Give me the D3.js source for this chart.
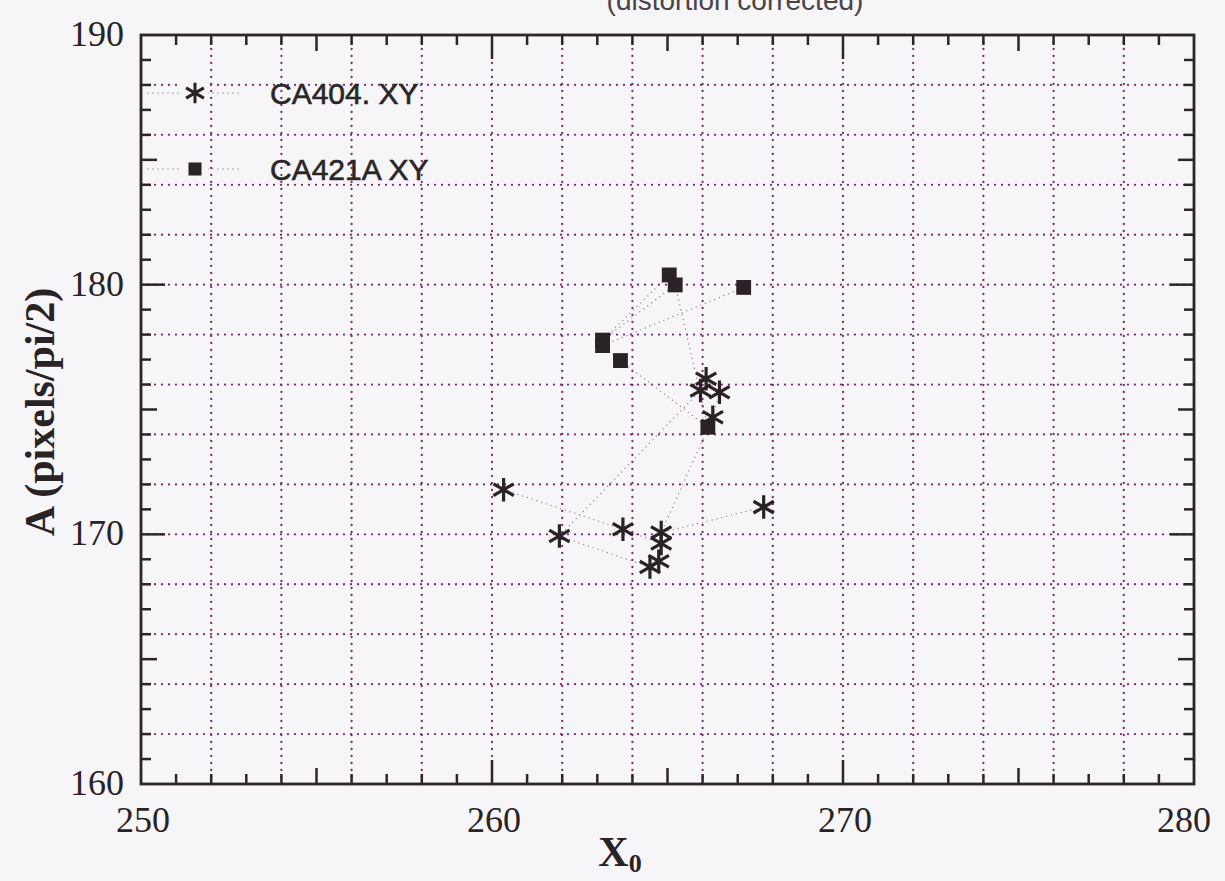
<!DOCTYPE html>
<html lang="en">
	<head>
		<meta charset="utf-8">
		<title>A vs X0 (distortion corrected)</title>
		<script type="text/javascript" src="https://d3js.org/d3.v7.min.js"></script>
		<style type="text/css">
			body { margin: 0; background: #f6f5f7; }
			svg { display: block; }
			.num { font-family: "Liberation Serif", "Times New Roman", serif; font-size: 36px; fill: #2a2326; }
			.lbl { font-family: "Liberation Serif", "Times New Roman", serif; font-weight: bold; fill: #2a2326; }
			.leg { font-family: "Liberation Sans", Arial, sans-serif; font-size: 30px; fill: #2a2628; stroke: #2a2628; stroke-width: 0.6px; }
		</style>
	</head>
	<body>
		<script type="text/javascript">

			//Width and height
			var w = 1225;
			var h = 881;

			// data
			var seriesNames = ["CA404. XY", "CA421A XY"];
			var ca404X = [260.33, 263.73, 264.82, 264.75, 264.50, 261.92, 265.94, 266.10, 266.48, 266.29, 264.82, 267.74];
			var ca404Y = [171.79, 170.20, 169.63, 168.92, 168.69, 169.93, 175.76, 176.23, 175.69, 174.69, 170.07, 171.09];
			var ca421X = [265.05, 263.15, 265.22, 266.15, 263.66, 263.15, 267.17];
			var ca421Y = [180.39, 177.78, 179.99, 174.29, 176.96, 177.56, 179.89];

			var xTicks = [250, 260, 270, 280];
			var yTicks = [160, 170, 180, 190];
			var xGrid = d3.range(252, 280, 2);
			var yGrid = d3.range(162, 190, 2);
			var xMinor = d3.range(251, 280, 1);
			var yMinor = d3.range(161, 190, 1);

			// plot box (named so they do not clash with window.top)
			var pLeft = 141, pRight = 1194, pTop = 35, pBottom = 784;

			var x = d3.scaleLinear().domain([250, 280]).range([pLeft, pRight]);
			var y = d3.scaleLinear().domain([160, 190]).range([pBottom, pTop]);

			var svg = d3.select("body")
						.append("svg")
						.attr("width", w)
						.attr("height", h);

			svg.append("rect").attr("width", w).attr("height", h).attr("fill", "#f6f5f7");

			// title, cut off at the top edge as in the scan
			svg.append("text")
				.attr("x", 735).attr("y", 10)
				.attr("text-anchor", "middle")
				.style("font-family", "Liberation Sans, Arial, sans-serif")
				.style("font-size", "28px")
				.style("fill", "#4a4448")
				.text("(distortion corrected)");

			//dotted grid
			var grid = svg.append("g")
				.attr("stroke", "#7a2c6c")
				.attr("stroke-width", 2.3)
				.attr("stroke-linecap", "round")
				.attr("stroke-dasharray", "0,7");

			grid.selectAll("line.gx")
				.data(xGrid)
				.enter()
				.append("line")
				.attr("class", "gx")
				.attr("x1", function(d) { return x(d); })
				.attr("x2", function(d) { return x(d); })
				.attr("y1", pBottom)
				.attr("y2", pTop);

			grid.selectAll("line.gy")
				.data(yGrid)
				.enter()
				.append("line")
				.attr("class", "gy")
				.attr("y1", function(d) { return y(d); })
				.attr("y2", function(d) { return y(d); })
				.attr("x1", pLeft)
				.attr("x2", pRight);

			//inward ticks on all four sides
			function tickLen(v) {
				if (v % 10 == 0) return 24;
				if (v % 5 == 0) return 16;
				return 10;
			}

			var ticks = svg.append("g").attr("stroke", "#2e2529").attr("stroke-width", 2.5);

			ticks.selectAll("line.tb")
				.data(xMinor)
				.enter()
				.append("line")
				.attr("class", "tb")
				.attr("x1", function(d) { return x(d); })
				.attr("x2", function(d) { return x(d); })
				.attr("y1", pBottom)
				.attr("y2", function(d) { return pBottom - tickLen(d); });

			ticks.selectAll("line.tt")
				.data(xMinor)
				.enter()
				.append("line")
				.attr("class", "tt")
				.attr("x1", function(d) { return x(d); })
				.attr("x2", function(d) { return x(d); })
				.attr("y1", pTop)
				.attr("y2", function(d) { return pTop + tickLen(d); });

			ticks.selectAll("line.tl")
				.data(yMinor)
				.enter()
				.append("line")
				.attr("class", "tl")
				.attr("y1", function(d) { return y(d); })
				.attr("y2", function(d) { return y(d); })
				.attr("x1", pLeft)
				.attr("x2", function(d) { return pLeft + tickLen(d); });

			ticks.selectAll("line.tr")
				.data(yMinor)
				.enter()
				.append("line")
				.attr("class", "tr")
				.attr("y1", function(d) { return y(d); })
				.attr("y2", function(d) { return y(d); })
				.attr("x1", pRight)
				.attr("x2", function(d) { return pRight - tickLen(d); });

			svg.append("rect")
				.attr("x", pLeft).attr("y", pTop)
				.attr("width", pRight - pLeft).attr("height", pBottom - pTop)
				.attr("fill", "none")
				.attr("stroke", "#2e2529")
				.attr("stroke-width", 2.8);

			//tick labels
			svg.selectAll("text.xt")
				.data(xTicks)
				.enter()
				.append("text")
				.attr("class", "num xt")
				.attr("x", function(d) { return x(d) + (d == 280 ? -10 : 2); })
				.attr("y", 832)
				.attr("text-anchor", "middle")
				.text(function(d) { return d; });

			svg.selectAll("text.yt")
				.data(yTicks)
				.enter()
				.append("text")
				.attr("class", "num yt")
				.attr("x", 124)
				.attr("y", function(d) { return y(d) + 11; })
				.attr("text-anchor", "end")
				.text(function(d) { return d; });

			//axis titles
			var xl = svg.append("text")
				.attr("class", "lbl")
				.attr("x", 620).attr("y", 866)
				.attr("text-anchor", "middle")
				.style("font-size", "42px");
			xl.append("tspan").text("X");
			xl.append("tspan").attr("dy", 6).style("font-size", "26px").text("0");

			svg.append("text")
				.attr("class", "lbl")
				.attr("transform", "translate(54,412) rotate(-90)")
				.attr("text-anchor", "middle")
				.style("font-size", "42px")
				.text("A (pixels/pi/2)");

			//series: faint dotted connectors then markers
			var line = d3.line()
				.x(function(d) { return x(d[0]); })
				.y(function(d) { return y(d[1]); });

			var pts404 = d3.zip(ca404X, ca404Y);
			var pts421 = d3.zip(ca421X, ca421Y);

			[pts404, pts421].forEach(function(p) {
				svg.append("path")
					.attr("d", line(p))
					.attr("fill", "none")
					.attr("stroke", "#9a7c92")
					.attr("stroke-width", 1.4)
					.attr("stroke-linecap", "round")
					.attr("stroke-dasharray", "0,5");
			});

			var star = d3.symbol().type(d3.symbolAsterisk).size(390);
			var sq = d3.symbol().type(d3.symbolSquare).size(220);

			svg.selectAll("path.s404")
				.data(pts404)
				.enter()
				.append("path")
				.attr("class", "s404")
				.attr("d", star)
				.attr("transform", function(d) { return "translate(" + x(d[0]) + "," + y(d[1]) + ")"; })
				.attr("fill", "none")
				.attr("stroke", "#2b2226")
				.attr("stroke-width", 3.2);

			svg.selectAll("path.s421")
				.data(pts421)
				.enter()
				.append("path")
				.attr("class", "s421")
				.attr("d", sq)
				.attr("transform", function(d) { return "translate(" + x(d[0]) + "," + y(d[1]) + ")"; })
				.attr("fill", "#2b2226");

			//legend
			var legY = [93, 169];
			var legStar = d3.symbol().type(d3.symbolAsterisk).size(300);
			var legSq = d3.symbol().type(d3.symbolSquare).size(170);
			legY.forEach(function(ly, i) {
				svg.append("line")
					.attr("x1", 148).attr("x2", 240)
					.attr("y1", ly).attr("y2", ly)
					.attr("stroke", "#9a7c92")
					.attr("stroke-width", 1.4)
					.attr("stroke-linecap", "round")
					.attr("stroke-dasharray", "0,5");
				svg.append("rect")
					.attr("x", 182).attr("y", ly - 14)
					.attr("width", 26).attr("height", 28)
					.attr("fill", "#f6f5f7");
				svg.append("path")
					.attr("d", i == 0 ? legStar() : legSq())
					.attr("transform", "translate(195," + ly + ")")
					.attr("fill", i == 0 ? "none" : "#2b2226")
					.attr("stroke", i == 0 ? "#2b2226" : "none")
					.attr("stroke-width", 3);
				svg.append("text")
					.attr("class", "leg")
					.attr("x", 270)
					.attr("y", ly + 11)
					.text(seriesNames[i]);
			});
		</script>
	</body>
</html>
